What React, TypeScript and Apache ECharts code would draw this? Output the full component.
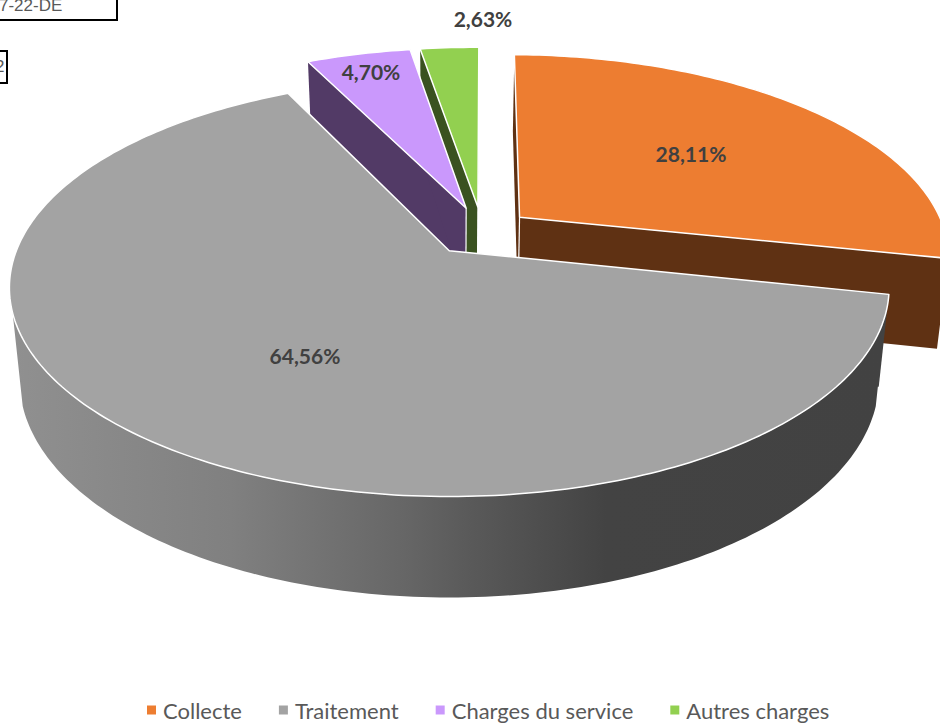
import React, { useEffect, useRef } from "react";
import * as echarts from "echarts";

const categories = ["Collecte", "Traitement", "Charges du service", "Autres charges"];
const shares = [28.11, 64.56, 4.7, 2.63];
const topColors = ["#ED7D31", "#A3A3A3", "#CA98FC", "#92D050"];
const sideColors = ["#5F3113", "#424242", "#523A66", "#3A5220"];
const labelPositions = [[691, 155], [305, 357], [371, 73], [483, 20]];
const explodeBySlice = [0.115, 0.125, 0.125, 0.125];
const paintOrder = [0, 3, 2, 1];

// projection of the tilted pie plane on the screen
const CX = 450, CY = 251, RX = 433, RY = 202.4, K = 0.177;
const HUB = [0.0756, -0.0996];
const BOTTOM_SCALE = 0.977;
const FIRST_ANGLE = 0.8;
const FACING_V = 0.29;

const dir = (deg: number) => [Math.sin((deg * Math.PI) / 180), -Math.cos((deg * Math.PI) / 180)];
const top = (u: number, v: number) => {
  const w = 1 - K * v;
  return [CX + (RX * u) / w, CY + (RY * v) / w];
};
const bottom = (u: number, v: number) => {
  const p = top(u, v);
  return [CX + (p[0] - CX) * BOTTOM_SCALE, p[1] + 90 + 11 * v];
};

const total = shares.reduce((a, b) => a + b, 0);
const starts = shares.map((_, i) => shares.slice(0, i).reduce((a, b) => a + b, 0));

function renderSlice(i: number) {
  return (_: any, api: any) => {
    const value = api.value(0);
    const start = api.value(1);
    const a0 = FIRST_ANGLE + (start / total) * 360;
    const a1 = FIRST_ANGLE + ((start + value) / total) * 360;
    const m = dir((a0 + a1) / 2);
    const hu = HUB[0] + explodeBySlice[i] * m[0];
    const hv = HUB[1] + explodeBySlice[i] * m[1];
    const planeArc: number[][] = [];
    for (let a = a0; a < a1; a += 1) {
      const d = dir(a);
      planeArc.push([hu + d[0], hv + d[1]]);
    }
    const e = dir(a1);
    planeArc.push([hu + e[0], hv + e[1]]);
    const topArc = planeArc.map((p) => top(p[0], p[1]));
    const botArc = planeArc.map((p) => bottom(p[0], p[1]));
    const front = planeArc.filter((p) => p[1] >= FACING_V);
    const frontTop = front.map((p) => top(p[0], p[1]));
    const frontBot = front.map((p) => bottom(p[0], p[1]));
    const hubT = top(hu, hv);
    const hubB = bottom(hu, hv);
    const edge = (t: number[], b: number[]) => ({
      type: "polygon",
      shape: { points: [hubT, t, b, hubB] },
      style: { fill: sideColors[i], stroke: "none" },
    });
    const wallFill =
      i === 1
        ? new echarts.graphic.LinearGradient(0, 0, 1, 0, [
            { offset: 0, color: "#909090" },
            { offset: 0.25, color: "#808080" },
            { offset: 0.45, color: "#666666" },
            { offset: 0.52, color: "#5A5A5A" },
            { offset: 0.68, color: "#434343" },
            { offset: 1, color: "#424242" },
          ])
        : sideColors[i];
    const children: any[] = [
      edge(topArc[0], botArc[0]),
      edge(topArc[topArc.length - 1], botArc[botArc.length - 1]),
    ];
    if (front.length > 1) {
      children.push({
        type: "polygon",
        shape: { points: [...frontTop, ...frontBot.slice().reverse()] },
        style: { fill: wallFill, stroke: "none" },
      });
    }
    children.push(
      {
        type: "line",
        shape: { x1: hubT[0], y1: hubT[1], x2: hubB[0], y2: hubB[1] },
        style: { stroke: "#FFFFFF", lineWidth: 1.2 },
      },
      {
        type: "polygon",
        shape: { points: [hubT, ...topArc] },
        style: { fill: topColors[i], stroke: "#FFFFFF", lineWidth: 1.5, lineJoin: "round" },
      },
      {
        type: "text",
        style: {
          text: value.toFixed(2).replace(".", ",") + "%",
          x: labelPositions[i][0],
          y: labelPositions[i][1] - 1.5,
          align: "center",
          verticalAlign: "middle",
          fill: "#404040",
          font: "bold 21px Lato",
        },
      }
    );
    return { type: "group", children };
  };
}

export default function App() {
  const ref = useRef<HTMLDivElement>(null);
  useEffect(() => {
    const chart = echarts.init(ref.current!, null, { renderer: "svg" });
    chart.setOption({
      animation: false,
      backgroundColor: "#FFFFFF",
      legend: {
        data: categories,
        left: 142,
        top: 694,
        icon: "rect",
        itemWidth: 9,
        itemHeight: 9,
        itemGap: 37,
        selectedMode: false,
        textStyle: { fontFamily: "Lato", fontSize: 22, color: "#595959", padding: [0, 0, 0, 2] },
      },
      graphic: [
        {
          type: "rect",
          shape: { x: -10, y: -10, width: 127, height: 30 },
          style: { fill: "#FFFFFF", stroke: "#000000", lineWidth: 2 },
        },
        {
          type: "text",
          style: { text: "7-22-DE", x: -1, y: 5, verticalAlign: "middle", fill: "#595959", font: "17px 'Liberation Sans'" },
        },
        {
          type: "rect",
          shape: { x: -10, y: 51, width: 17, height: 32 },
          style: { fill: "#FFFFFF", stroke: "#000000", lineWidth: 2 },
        },
        {
          type: "text",
          style: { text: "2", x: -5, y: 66, verticalAlign: "middle", fill: "#595959", font: "17px 'Liberation Sans'" },
        },
      ],
      series: paintOrder.map((i, order) => ({
        type: "custom",
        name: categories[i],
        coordinateSystem: "none",
        z: order + 2,
        silent: true,
        itemStyle: { color: topColors[i] },
        data: [[shares[i], starts[i]]],
        renderItem: renderSlice(i),
      })),
    });
    return () => chart.dispose();
  }, []);
  return <div ref={ref} style={{ position: "absolute", left: 0, top: 0, width: 940, height: 727 }} />;
}
